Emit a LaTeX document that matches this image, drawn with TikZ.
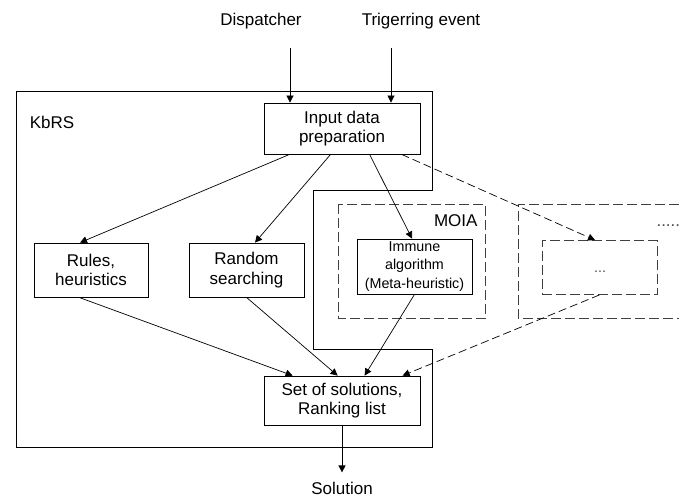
\documentclass[tikz,border=0pt]{standalone}
\usepackage{fontspec}
\setmainfont{Liberation Sans}
\usetikzlibrary{arrows.meta,calc}
\begin{document}
\begin{tikzpicture}[x=1pt,y=-1pt,
  every node/.style={font=\fontsize{17}{19.5}\selectfont},
  box/.style={draw, line width=0.8pt, inner sep=0pt, align=center, anchor=center},
  smalltext/.style={font=\fontsize{14.3}{18.5}\selectfont},
  dashbox/.style={draw=black!75, line width=0.8pt, dash pattern=on 10pt off 4pt},
  link/.style={line width=0.7pt, -{Triangle[length=7pt,width=7pt]}},
  dlink/.style={link, dash pattern=on 8pt off 4pt},
  frame/.style={line width=0.8pt}
]
\useasboundingbox (0,0) rectangle (679,497);

% system frame with the notch for the optimisation modules
\draw[frame] (16,91) -- (432,91) -- (432,190) -- (313,190) -- (313,349)
  -- (432,349) -- (432,447) -- (16,447) -- cycle;
\node[anchor=center] (kbrs) at (52,122) {KbRS};

% optimisation module frames
\draw[dashbox] (338,204) rectangle (485.5,318);
\node[anchor=east] (moia) at (481,221) {MOIA};
\draw[dashbox] (679,204) -- (518,204) -- (518,318) -- (679,318);
\node[anchor=base west, text=black!70] (more) at (653,226) {.....};

% external inputs and output
\node (disp) at (261,21) {Dispatcher};
\node (trig) at (421,21) {Trigerring event};
\node[inner sep=0.5pt, anchor=base] (sol) at (342,494) {Solution};
\coordinate (dispout) at (290,48);
\coordinate (trigout) at (391,48);

% processing boxes
\node[box, minimum width=156pt, minimum height=51pt] (input) at (342,128.5)
  {Input data\\preparation};
\node[box, minimum width=114pt, minimum height=54pt] (rules) at (91,270)
  {Rules,\\heuristics};
\node[box, minimum width=115pt, minimum height=54pt] (random) at (246.5,270)
  {Random\\searching};
\node[box, smalltext, minimum width=115pt, minimum height=55pt] (immune) at (414.5,266.5)
  {Immune\\algorithm\\(Meta-heuristic)};
\node[box, dashbox, minimum width=115pt, minimum height=54pt] (other) at (599.5,267.5) {};
\node[smalltext, anchor=base, text=black!70] (otherdots) at (600,272) {...};
\node[box, minimum width=156pt, minimum height=49pt] (set) at (342,400.5)
  {Set of solutions,\\Ranking list};

% connectors
\draw[link] (dispout) -- (input.north -| dispout);
\draw[link] (trigout) -- (input.north -| trigout);
\draw[link] ([xshift=26pt]input.south west) -- ([xshift=-11pt]rules.north);
\draw[link] ([xshift=67pt]input.south west) -- ([xshift=8.5pt]random.north);
\draw[link] ([xshift=106pt]input.south west) -- ([xshift=-2.5pt]immune.north);
\draw[dlink] ([xshift=138pt]input.south west) -- ([xshift=-4.5pt]other.north);
\draw[link] ([xshift=-12pt]rules.south) -- ([xshift=29pt]set.north west);
\draw[link] (random.south) -- ([xshift=74pt]set.north west);
\draw[link] (immune.south) -- ([xshift=101pt]set.north west);
\draw[dlink] (other.south) -- ([xshift=139pt]set.north west);
\draw[link] (set.south) -- ($(set.south)+(0,47)$);
\end{tikzpicture}
\end{document}
